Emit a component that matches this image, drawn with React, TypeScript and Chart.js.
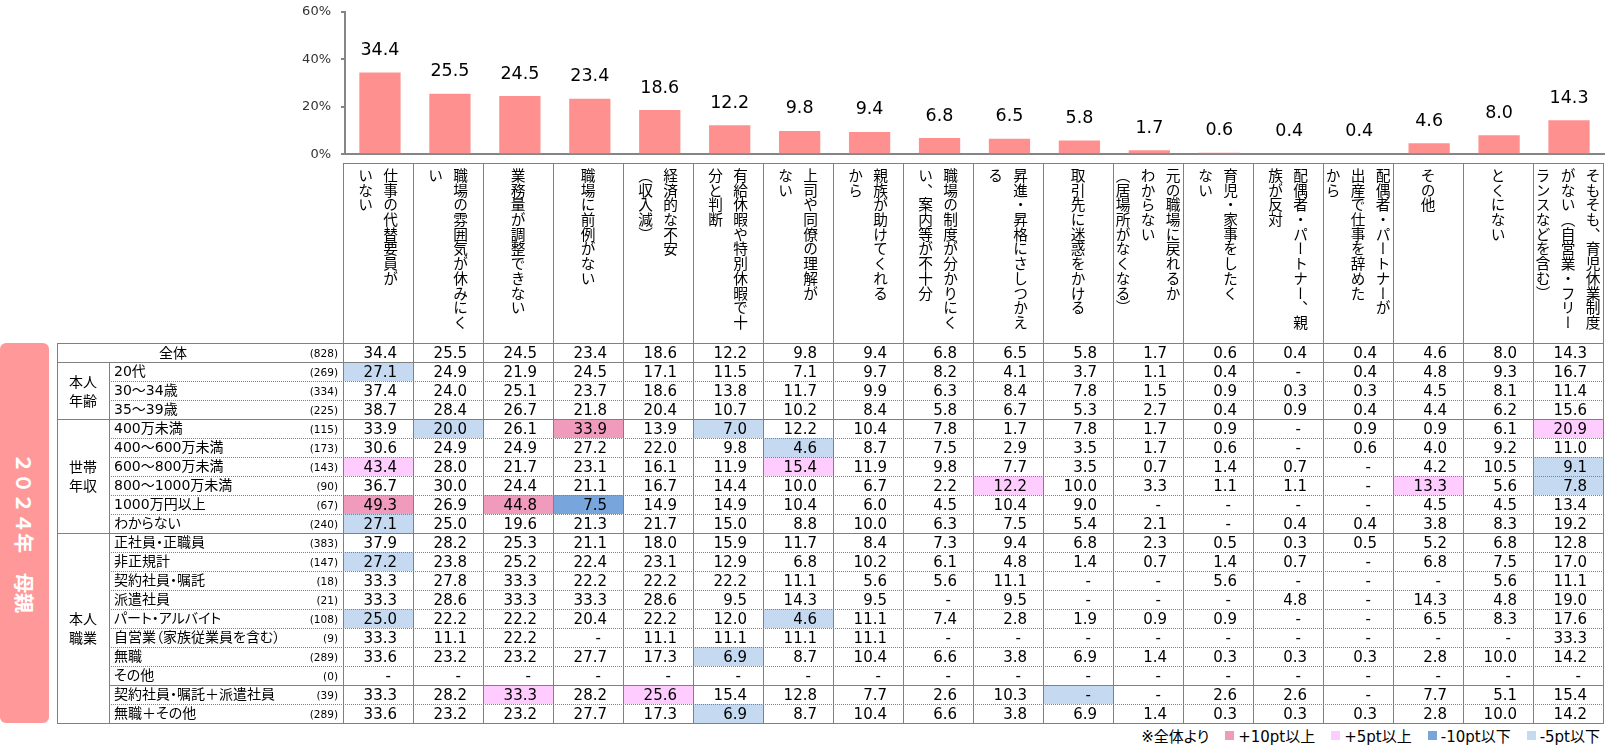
import React, { useEffect, useRef } from "react";
import { Chart, registerables } from "chart.js";

Chart.register(...registerables);

// ---------- data ----------
const categories: string[][] = [
  ["仕事の代替要員が", "いない"],
  ["職場の雰囲気が休みにく", "い"],
  ["業務量が調整できない"],
  ["職場に前例がない"],
  ["経済的な不安", "（収入減）"],
  ["有給休暇や特別休暇で十", "分と判断"],
  ["上司や同僚の理解が", "ない"],
  ["親族が助けてくれる", "から"],
  ["職場の制度が分かりにく", "い、案内等が不十分"],
  ["昇進・昇格にさしつかえ", "る"],
  ["取引先に迷惑をかける"],
  ["元の職場に戻れるか", "わからない", "（居場所がなくなる）"],
  ["育児・家事をしたく", "ない"],
  ["配偶者・パートナー、親", "族が反対"],
  ["配偶者・パートナーが", "出産で仕事を辞めた", "から"],
  ["その他"],
  ["とくにない"],
  ["そもそも、育児休業制度", "がない（自営業・フリー", "ランスなどを含む）"],
];

const yTicks = [0, 20, 40, 60];

const _ = null;
const totalValues = [34.4, 25.5, 24.5, 23.4, 18.6, 12.2, 9.8, 9.4, 6.8, 6.5, 5.8, 1.7, 0.6, 0.4, 0.4, 4.6, 8.0, 14.3];
const age20s = [27.1, 24.9, 21.9, 24.5, 17.1, 11.5, 7.1, 9.7, 8.2, 4.1, 3.7, 1.1, 0.4, _, 0.4, 4.8, 9.3, 16.7];
const age30to34 = [37.4, 24.0, 25.1, 23.7, 18.6, 13.8, 11.7, 9.9, 6.3, 8.4, 7.8, 1.5, 0.9, 0.3, 0.3, 4.5, 8.1, 11.4];
const age35to39 = [38.7, 28.4, 26.7, 21.8, 20.4, 10.7, 10.2, 8.4, 5.8, 6.7, 5.3, 2.7, 0.4, 0.9, 0.4, 4.4, 6.2, 15.6];
const incUnder400 = [33.9, 20.0, 26.1, 33.9, 13.9, 7.0, 12.2, 10.4, 7.8, 1.7, 7.8, 1.7, 0.9, _, 0.9, 0.9, 6.1, 20.9];
const inc400to600 = [30.6, 24.9, 24.9, 27.2, 22.0, 9.8, 4.6, 8.7, 7.5, 2.9, 3.5, 1.7, 0.6, _, 0.6, 4.0, 9.2, 11.0];
const inc600to800 = [43.4, 28.0, 21.7, 23.1, 16.1, 11.9, 15.4, 11.9, 9.8, 7.7, 3.5, 0.7, 1.4, 0.7, _, 4.2, 10.5, 9.1];
const inc800to1000 = [36.7, 30.0, 24.4, 21.1, 16.7, 14.4, 10.0, 6.7, 2.2, 12.2, 10.0, 3.3, 1.1, 1.1, _, 13.3, 5.6, 7.8];
const inc1000plus = [49.3, 26.9, 44.8, 7.5, 14.9, 14.9, 10.4, 6.0, 4.5, 10.4, 9.0, _, _, _, _, 4.5, 4.5, 13.4];
const incUnknown = [27.1, 25.0, 19.6, 21.3, 21.7, 15.0, 8.8, 10.0, 6.3, 7.5, 5.4, 2.1, _, 0.4, 0.4, 3.8, 8.3, 19.2];
const jobRegular = [37.9, 28.2, 25.3, 21.1, 18.0, 15.9, 11.7, 8.4, 7.3, 9.4, 6.8, 2.3, 0.5, 0.3, 0.5, 5.2, 6.8, 12.8];
const jobNonRegular = [27.2, 23.8, 25.2, 22.4, 23.1, 12.9, 6.8, 10.2, 6.1, 4.8, 1.4, 0.7, 1.4, 0.7, _, 6.8, 7.5, 17.0];
const jobContract = [33.3, 27.8, 33.3, 22.2, 22.2, 22.2, 11.1, 5.6, 5.6, 11.1, _, _, 5.6, _, _, _, 5.6, 11.1];
const jobDispatch = [33.3, 28.6, 33.3, 33.3, 28.6, 9.5, 14.3, 9.5, _, 9.5, _, _, _, 4.8, _, 14.3, 4.8, 19.0];
const jobPartTime = [25.0, 22.2, 22.2, 20.4, 22.2, 12.0, 4.6, 11.1, 7.4, 2.8, 1.9, 0.9, 0.9, _, _, 6.5, 8.3, 17.6];
const jobSelfEmployed = [33.3, 11.1, 22.2, _, 11.1, 11.1, 11.1, 11.1, _, _, _, _, _, _, _, _, _, 33.3];
const jobNone = [33.6, 23.2, 23.2, 27.7, 17.3, 6.9, 8.7, 10.4, 6.6, 3.8, 6.9, 1.4, 0.3, 0.3, 0.3, 2.8, 10.0, 14.2];
const jobOther = [_, _, _, _, _, _, _, _, _, _, _, _, _, _, _, _, _, _];
const jobContractDispatch = [33.3, 28.2, 33.3, 28.2, 25.6, 15.4, 12.8, 7.7, 2.6, 10.3, _, _, 2.6, 2.6, _, 7.7, 5.1, 15.4];
const jobNoneOther = [33.6, 23.2, 23.2, 27.7, 17.3, 6.9, 8.7, 10.4, 6.6, 3.8, 6.9, 1.4, 0.3, 0.3, 0.3, 2.8, 10.0, 14.2];

const rowLabels = [
  "全体", "20代", "30～34歳", "35～39歳", "400万未満", "400～600万未満", "600～800万未満",
  "800～1000万未満", "1000万円以上", "わからない", "正社員・正職員", "非正規計", "契約社員・嘱託",
  "派遣社員", "パート・アルバイト", "自営業（家族従業員を含む）", "無職", "その他",
  "契約社員・嘱託＋派遣社員", "無職＋その他",
];
const rowN = [828, 269, 334, 225, 115, 173, 143, 90, 67, 240, 383, 147, 18, 21, 108, 9, 289, 0, 39, 289];
const rowValues = [
  totalValues, age20s, age30to34, age35to39, incUnder400, inc400to600, inc600to800, inc800to1000,
  inc1000plus, incUnknown, jobRegular, jobNonRegular, jobContract, jobDispatch, jobPartTime,
  jobSelfEmployed, jobNone, jobOther, jobContractDispatch, jobNoneOther,
];
const groupLabels = ["本人\n年齢", "世帯\n年収", "本人\n職業"];
const groupStart = [1, 4, 10];
const groupEnd = [3, 9, 19];

const legendItems = ["+10pt以上", "+5pt以上", "-10pt以下", "-5pt以下"];

// ---------- style ----------
const C_UP10 = "#F19BBC";
const C_UP5 = "#FFCCFF";
const C_DN10 = "#78A5DC";
const C_DN5 = "#C5D9F1";
const legendColors = [C_UP10, C_UP5, C_DN10, C_DN5];
const LINE = "#808080";
const NUM_FONT = '"DejaVu Sans", "Noto Sans CJK JP", sans-serif';
const JP_FONT = '"Noto Sans CJK JP", sans-serif';

const CANVAS_LEFT = 280;
const CANVAS_TOP = -5.6;
const CANVAS_W = 1325;
const CANVAS_H = 178;
const PLOT_LEFT = 345;

const DATA_LEFT = 343;
const COL_W = 70;
const HEADER_TOP = 163;
const ROW_TOP = 343;
const ROW_H = 19;
const TABLE_LEFT = 57;
const GROUP_RIGHT = 109;
const LABEL_RIGHT = 289;
const NCOLS = categories.length;
const TABLE_RIGHT = DATA_LEFT + COL_W * NCOLS;
const TABLE_BOTTOM = ROW_TOP + ROW_H * rowLabels.length;

function highlight(v: number | null, base: number | null, n: number, r: number): string | null {
  if (r === 0 || n < 30) return null;
  const d = Math.round(((v ?? 0) - (base ?? 0)) * 10) / 10;
  if (d >= 10) return C_UP10;
  if (d >= 5) return C_UP5;
  if (d <= -10) return C_DN10;
  if (d <= -5) return C_DN5;
  return null;
}

const valueLabelPlugin = {
  id: "valueLabels",
  afterDatasetsDraw(chart: any) {
    const ctx = chart.ctx;
    const meta = chart.getDatasetMeta(0);
    const data = chart.data.datasets[0].data as number[];
    ctx.save();
    ctx.font = '17.5px "DejaVu Sans"';
    ctx.fillStyle = "#000";
    ctx.textAlign = "center";
    ctx.textBaseline = "middle";
    meta.data.forEach((bar: any, i: number) => {
      ctx.fillText(Number(data[i]).toFixed(1), bar.x, bar.y - 22);
    });
    ctx.restore();
  },
};

export default function App() {
  const ref = useRef<HTMLCanvasElement>(null);

  useEffect(() => {
    if (!ref.current) return;
    const chart = new Chart(ref.current, {
      type: "bar",
      data: {
        labels: categories.map((c) => c.join("")),
        datasets: [
          {
            data: totalValues,
            backgroundColor: "#FF9090",
            borderWidth: 0,
            categoryPercentage: 1,
            barPercentage: 0.59,
          },
        ],
      },
      options: {
        animation: false,
        responsive: false,
        maintainAspectRatio: false,
        layout: { padding: { left: 0, right: 1, top: 0, bottom: 0 } },
        plugins: { legend: { display: false }, tooltip: { enabled: false } },
        scales: {
          x: {
            display: true,
            ticks: { display: false },
            grid: { display: false },
            border: { display: true, color: "#858585", width: 2 },
            afterFit: (s: any) => {
              s.height = 0;
            },
          },
          y: {
            min: yTicks[0],
            max: yTicks[yTicks.length - 1],
            afterBuildTicks: (s: any) => {
              s.ticks = yTicks.map((v) => ({ value: v }));
            },
            ticks: {
              callback: (v: any) => v + "%",
              font: { family: "DejaVu Sans", size: 13 },
              color: "#333",
              padding: 10,
            },
            grid: { display: true, drawOnChartArea: false, drawTicks: true, tickLength: 4, color: "#858585", lineWidth: 2 },
            border: { display: true, color: "#858585", width: 2 },
            afterFit: (s: any) => {
              s.width = PLOT_LEFT - CANVAS_LEFT;
            },
          },
        },
      },
      plugins: [valueLabelPlugin],
    });
    return () => chart.destroy();
  }, []);

  const bgs: React.ReactNode[] = [];
  const texts: React.ReactNode[] = [];
  const lines: React.ReactNode[] = [];

  rowValues.forEach((vals, r) => {
    const y = ROW_TOP + r * ROW_H;
    vals.forEach((v, c) => {
      const x = DATA_LEFT + c * COL_W;
      const hl = highlight(v, totalValues[c], rowN[r], r);
      if (hl) {
        bgs.push(
          <div key={`bg-${r}-${c}`} style={{ position: "absolute", left: x, top: y, width: COL_W, height: ROW_H, background: hl }} />
        );
      }
      texts.push(
        <div
          key={`t-${r}-${c}`}
          style={{
            position: "absolute",
            left: x,
            top: y + 1,
            width: COL_W - (v == null ? 22 : 16),
            height: ROW_H,
            lineHeight: `${ROW_H}px`,
            textAlign: "right",
            fontFamily: NUM_FONT,
            fontSize: 15,
            color: "#000",
            whiteSpace: "nowrap",
          }}
        >
          {v == null ? "-" : v.toFixed(1)}
        </div>
      );
    });
    if (r === 0) {
      texts.push(
        <div key="lab-0" style={{ position: "absolute", left: TABLE_LEFT, top: y, width: LABEL_RIGHT - TABLE_LEFT, height: ROW_H, lineHeight: `${ROW_H}px`, textAlign: "center", fontFamily: JP_FONT, fontSize: 14 }}>
          {rowLabels[r]}
        </div>
      );
    } else {
      texts.push(
        <div key={`lab-${r}`} style={{ position: "absolute", left: GROUP_RIGHT + 5, top: y, height: ROW_H, lineHeight: `${ROW_H}px`, fontFamily: NUM_FONT, fontSize: 14, whiteSpace: "nowrap", fontFeatureSettings: '"palt"' }}>
          {rowLabels[r]}
        </div>
      );
    }
    texts.push(
      <div key={`n-${r}`} style={{ position: "absolute", left: LABEL_RIGHT, top: y + 1, width: DATA_LEFT - LABEL_RIGHT - 5, height: ROW_H, lineHeight: `${ROW_H}px`, textAlign: "right", fontFamily: NUM_FONT, fontSize: 10.5 }}>
        ({rowN[r]})
      </div>
    );
  });

  groupLabels.forEach((g, i) => {
    const top = ROW_TOP + groupStart[i] * ROW_H;
    const h = (groupEnd[i] - groupStart[i] + 1) * ROW_H;
    texts.push(
      <div key={`g-${i}`} style={{ position: "absolute", left: TABLE_LEFT, top, width: GROUP_RIGHT - TABLE_LEFT, height: h, display: "flex", alignItems: "center", justifyContent: "center" }}>
        <div style={{ fontFamily: JP_FONT, fontSize: 14, lineHeight: "19px", whiteSpace: "pre", textAlign: "center" }}>{g}</div>
      </div>
    );
  });

  const hl = (key: string, y: number, x1: number, x2: number, dotted: boolean) =>
    lines.push(
      <div key={key} style={{ position: "absolute", left: x1, top: y, width: x2 - x1, height: 0, borderTop: `1px ${dotted ? "dotted" : "solid"} ${LINE}` }} />
    );
  const vl = (key: string, x: number, y1: number, y2: number) =>
    lines.push(<div key={key} style={{ position: "absolute", left: x, top: y1, width: 1, height: y2 - y1, background: LINE }} />);

  hl("h-head", HEADER_TOP, DATA_LEFT, TABLE_RIGHT + 1, false);
  hl("h-0", ROW_TOP, TABLE_LEFT, TABLE_RIGHT + 1, false);
  for (let r = 1; r <= rowLabels.length; r++) {
    const y = ROW_TOP + r * ROW_H;
    const groupBoundary = r === 1 || groupStart.includes(r) || r === rowLabels.length;
    if (groupBoundary) hl(`h-${r}`, y, TABLE_LEFT, TABLE_RIGHT + 1, false);
    else if (r === 18) hl(`h-${r}`, y, GROUP_RIGHT, TABLE_RIGHT + 1, false);
    else hl(`h-${r}`, y, GROUP_RIGHT, TABLE_RIGHT + 1, true);
  }
  vl("v-left", TABLE_LEFT, ROW_TOP, TABLE_BOTTOM + 1);
  vl("v-group", GROUP_RIGHT, ROW_TOP + ROW_H, TABLE_BOTTOM + 1);
  for (let k = 0; k <= NCOLS; k++) vl(`v-${k}`, DATA_LEFT + k * COL_W, HEADER_TOP, TABLE_BOTTOM + 1);

  return (
    <div style={{ position: "fixed", left: 0, top: 0, width: 1605, height: 747, background: "#fff", overflow: "hidden", color: "#000" }}>
      <canvas ref={ref} width={CANVAS_W} height={CANVAS_H} style={{ position: "absolute", left: CANVAS_LEFT, top: CANVAS_TOP, width: CANVAS_W, height: CANVAS_H }} />

      <div style={{ position: "absolute", left: 0, top: ROW_TOP, width: 49, height: TABLE_BOTTOM - ROW_TOP, background: "#FF9999", borderRadius: 6, display: "flex", alignItems: "center", justifyContent: "center" }}>
        <div style={{ writingMode: "vertical-rl", textOrientation: "sideways", color: "#fff", fontWeight: 700, fontSize: 20, fontFamily: JP_FONT, whiteSpace: "nowrap" }}>
          ２０２４年　母親
        </div>
      </div>

      {categories.map((lns, c) => (
        <div key={`hd-${c}`} style={{ position: "absolute", left: DATA_LEFT + c * COL_W, top: HEADER_TOP, width: COL_W, height: ROW_TOP - HEADER_TOP, display: "flex", justifyContent: "center", alignItems: "flex-start" }}>
          <div style={{ writingMode: "vertical-rl", lineHeight: "25px", fontSize: 14.7, fontFamily: JP_FONT, whiteSpace: "pre", paddingTop: 5 }}>
            {lns.join("\n")}
          </div>
        </div>
      ))}

      {bgs}
      {lines}
      {texts}

      <div style={{ position: "absolute", right: 5, top: 727, height: 16, display: "flex", alignItems: "center", fontFamily: NUM_FONT, fontSize: 15, whiteSpace: "nowrap", fontFeatureSettings: '"palt"' }}>
        <span>※全体より</span>
        {legendItems.map((t, i) => (
          <span key={t} style={{ display: "flex", alignItems: "center", marginLeft: 16 }}>
            <span style={{ display: "inline-block", width: 9, height: 9, background: legendColors[i], marginRight: 4 }} />
            <span>{t}</span>
          </span>
        ))}
      </div>
    </div>
  );
}
